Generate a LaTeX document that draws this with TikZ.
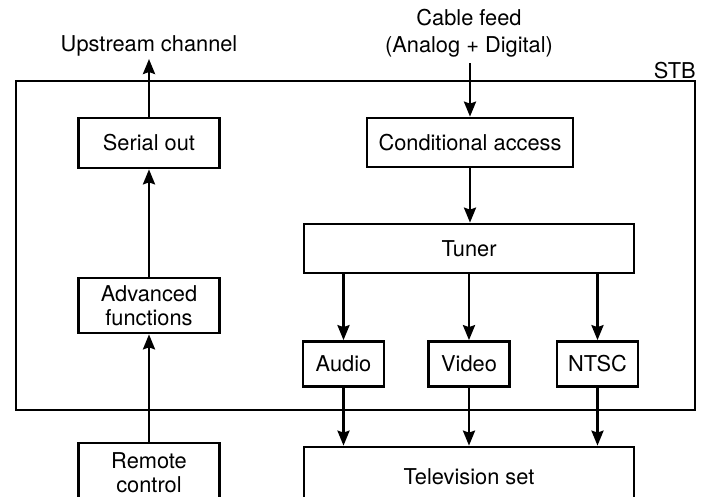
\documentclass[tikz,border=0pt]{standalone}
\usepackage{fontspec}
\setmainfont{TeX Gyre Heros}
\usetikzlibrary{arrows.meta}

\begin{document}
\begin{tikzpicture}[
    x=1pt, y=-1pt,
    >={Stealth[length=15pt,width=12pt,inset=2pt]},
    line width=2.7pt,
    every node/.style={font=\fontsize{21.8}{24}\selectfont, align=center, inner sep=0pt},
    blk/.style={draw, minimum width=#1, minimum height=50pt}
]
\useasboundingbox (0,0) rectangle (705,496);

% set-top box outline
\draw (16,81) rectangle (695,410);
\node[anchor=east] (stb) at (697,71) {STB};

\node[blk=141pt] (serial) at (149,143) {Serial out};
\node[blk=141pt, minimum height=55pt] (adv) at (149,305.5) {Advanced\\functions};
\node[blk=141pt, minimum height=60pt] (remote) at (149,473) {Remote\\control};

\node[blk=206pt, minimum height=49pt] (cond) at (470,142.5) {Conditional access};
\node[blk=330pt, minimum height=49pt] (tuner) at (469,248.5) {Tuner};
\node[blk=81pt, minimum height=45pt] (audio) at (343.5,364) {Audio};
\node[blk=81pt, minimum height=45pt] (video) at (469,364) {Video};
\node[blk=81pt, minimum height=45pt] (ntsc) at (597.5,364) {NTSC};
\node[blk=330pt, minimum height=60pt] (tv) at (469,477) {Television set};

\node (up) at (149,46) {Upstream channel};
\node[font=\fontsize{21.8}{27}\selectfont] (cable) at (469,33) {Cable feed\\(Analog + Digital)};
\coordinate (uptip) at (149,59);
\coordinate (cablein) at (470,63);

\draw[->] (remote) -- (adv);
\draw[->] (adv) -- (serial);
\draw[->] (serial) -- (uptip);
\draw[->] (cablein) -- (cond);
\draw[->] (cond) -- (cond |- tuner.north);
\foreach \b in {audio,video,ntsc} {
  \draw[->] (\b.north |- tuner.south) -- (\b);
  \draw[->] (\b) -- (\b.south |- tv.north);
}

\end{tikzpicture}
\end{document}
